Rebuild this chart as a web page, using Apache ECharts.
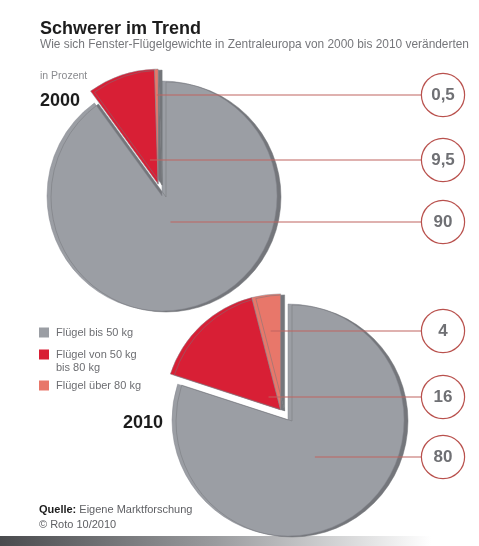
<!DOCTYPE html>
<html><head><meta charset="utf-8">
<script src="https://cdn.jsdelivr.net/npm/echarts@6/dist/echarts.min.js"></script>
<style>html,body{margin:0;padding:0;background:#fff}#c{width:479px;height:546px}</style>
</head><body><div id="c"></div>
<script>
// ---- data ----
const categories = ['Flügel bis 50 kg', 'Flügel von 50 kg\nbis 80 kg', 'Flügel über 80 kg'];
const years = ['2000', '2010'];
const values2000 = [90, 9.5, 0.5];
const values2010 = [80, 16, 4];
const titleText = 'Schwerer im Trend';
const subtitleText = 'Wie sich Fenster-Flügelgewichte in Zentraleuropa von 2000 bis 2010 veränderten';
const unitText = 'in Prozent';
const sourceLabel = 'Quelle:';
const sourceText = 'Eigene Marktforschung';
const copyrightText = '© Roto 10/2010';

// ---- style / layout ----
const colors = ['#9b9ea4', '#d81f35', '#e8776a'];
const FONT = "'Liberation Sans', Arial, Helvetica, sans-serif";
const lineColor = '#bf6560';
const shadowColor = '#74767b';
const explodeDist = 12.5;
const labelColumnX = 443;
const circleR = 21;
const pies = [
  { year: years[0], values: values2000, center: [162, 196], r: 115, rows: [222, 160, 95] },
  { year: years[1], values: values2010, center: [288, 420], r: 116, rows: [457, 397, 331] }
];

const sum = a => a.reduce((s, v) => s + v, 0);
function explodeCenter(p) {
  const total = sum(p.values);
  const g = (total - p.values[0]) / total * 2 * Math.PI;
  return [p.center[0] - Math.sin(g / 2) * explodeDist, p.center[1] - Math.cos(g / 2) * explodeDist];
}
function anchorX(p, idx, c) {
  const total = sum(p.values);
  const start = sum(p.values.slice(0, idx)) / total * 2 * Math.PI;
  const mid = start + p.values[idx] / total * Math.PI;
  const dx = Math.sin(mid), dy = -Math.cos(mid);
  const t = (p.rows[idx] - c[1]) / dy;
  return c[0] + t * dx;
}
function fmt(v) { return String(v).replace('.', ','); }

function itemLabel(p, i, c, show) {
  if (!show) return { show: false };
  const x0 = anchorX(p, i, c);
  const w = Math.max(1, labelColumnX - circleR - x0);
  return {
    show: true,
    position: 'outside',
    formatter: '{l| }{c|' + fmt(p.values[i]) + '}',
    rich: {
      l: { width: w, height: 1, backgroundColor: lineColor, verticalAlign: 'middle' },
      c: {
        width: circleR * 2, height: circleR * 2, lineHeight: circleR * 2, align: 'center', verticalAlign: 'middle',
        fontFamily: FONT, fontSize: 17, fontWeight: 'bold', color: '#6f7074',
        backgroundColor: '#fff', borderColor: '#b9514d', borderWidth: 1.2, borderRadius: circleR + 1
      }
    }
  };
}

function makeLayout(p, c) {
  return function (prm) {
    const i = prm.dataIndex;
    return { x: anchorX(p, i, c), y: p.rows[i], align: 'left', verticalAlign: 'middle' };
  };
}

const series = [];
pies.forEach(p => {
  const ec = explodeCenter(p);
  const visStyle = i => ({ color: colors[i], shadowColor: shadowColor, shadowBlur: 0, shadowOffsetX: 4, shadowOffsetY: 1, borderColor: '#868990', borderWidth: 0.5 });
  const hidden = { color: 'rgba(0,0,0,0)', borderWidth: 0 };
  series.push({
    type: 'pie', name: p.year + ' base', center: p.center, radius: p.r, startAngle: 90, clockwise: true,
    avoidLabelOverlap: false, silent: true, animation: false, z: 2,
    data: p.values.map((v, i) => ({
      name: categories[i], value: v,
      itemStyle: i === 0 ? visStyle(i) : hidden,
      label: itemLabel(p, i, p.center, i === 0)
    })),
    labelLine: { show: false },
    labelLayout: makeLayout(p, p.center)
  });
  series.push({
    type: 'pie', name: p.year + ' explode', center: ec, radius: p.r, startAngle: 90, clockwise: true,
    avoidLabelOverlap: false, silent: true, animation: false, z: 3,
    data: p.values.map((v, i) => ({
      name: categories[i], value: v,
      itemStyle: i === 0 ? hidden : visStyle(i),
      label: itemLabel(p, i, ec, i !== 0)
    })),
    labelLine: { show: false },
    labelLayout: makeLayout(p, ec)
  });
});

const legendTops = [326, 335, 379];
const legends = categories.map((c, i) => ({
  selectedMode: false, orient: 'vertical', left: 39, top: legendTops[i], padding: 0,
  icon: 'rect', itemWidth: 10, itemHeight: 10, itemGap: 8,
  formatter: name => (name.indexOf('\n') >= 0 ? ' \n' + name : name),
  textStyle: { fontFamily: FONT, fontSize: 11, color: '#6d6e72', lineHeight: 13, padding: [0, 0, 0, 2] },
  data: [{ name: c, itemStyle: { color: colors[i], shadowBlur: 0, shadowOffsetX: 0, shadowOffsetY: 0, borderWidth: 0 } }]
}));

const option = {
  backgroundColor: '#fff',
  animation: false,
  title: [
    { text: titleText, left: 40, top: 20, padding: 0, textStyle: { fontFamily: FONT, fontSize: 18, fontWeight: 'bold', color: '#1c1c1c' } },
    { text: subtitleText, left: 40, top: 39, padding: 0, textStyle: { fontFamily: FONT, fontSize: 11.9, fontWeight: 'normal', color: '#76777b' } },
    { text: unitText, left: 40, top: 71, padding: 0, textStyle: { fontFamily: FONT, fontSize: 10.5, fontWeight: 'normal', color: '#8a8b8f' } },
    { text: years[0], left: 40, top: 92, padding: 0, textStyle: { fontFamily: FONT, fontSize: 18, fontWeight: 'bold', color: '#1c1c1c' } },
    { text: years[1], left: 123, top: 414, padding: 0, textStyle: { fontFamily: FONT, fontSize: 18, fontWeight: 'bold', color: '#1c1c1c' } },
    { text: '{b|' + sourceLabel + '} ' + sourceText + '\n' + copyrightText, left: 39, top: 502, padding: 0,
      textStyle: { fontFamily: FONT, fontSize: 11, fontWeight: 'normal', color: '#5f6064', lineHeight: 15,
        rich: { b: { fontFamily: FONT, fontSize: 11, fontWeight: 'bold', color: '#1c1c1c', lineHeight: 15 } } } }
  ],
  legend: legends,
  graphic: [{
    type: 'rect', left: 0, bottom: 0, z: -10, silent: true,
    shape: { width: 479, height: 10 },
    style: { fill: new echarts.graphic.LinearGradient(0, 0, 1, 0, [
      { offset: 0, color: '#4a4b4e' }, { offset: 0.45, color: '#9a9b9e' }, { offset: 0.9, color: '#ffffff' }, { offset: 1, color: '#ffffff' }
    ]) }
  }],
  series: series
};

const chart = echarts.init(document.getElementById('c'), null, { renderer: 'canvas' });
chart.setOption(option);
</script>
</body></html>
